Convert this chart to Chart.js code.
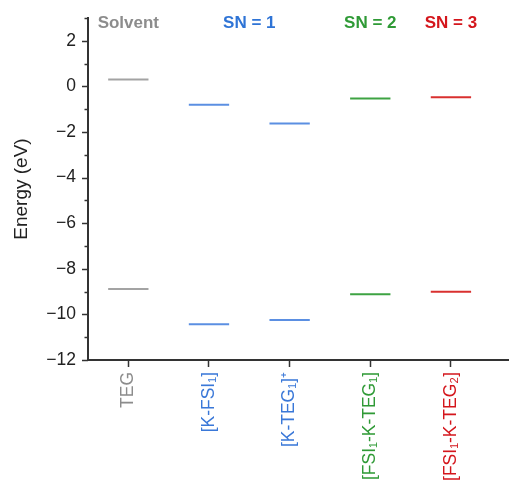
<!DOCTYPE html>
<html>
<head>
<meta charset="utf-8">
<script src="https://cdn.jsdelivr.net/npm/chart.js@4"></script>
<style>
html,body{margin:0;padding:0;background:#fff;overflow:hidden;}
#wrap{width:509px;height:481px;}
</style>
</head>
<body>
<div id="wrap"><canvas id="c" width="509" height="481"></canvas></div>
<script>
const categories = ['TEG', '[K-FSI\u2081]', '[K-TEG\u2081]\u207A', '[FSI\u2081-K-TEG\u2081]', '[FSI\u2081-K-TEG\u2082]'];
const lumoValues = [0.30, -0.80, -1.63, -0.53, -0.48];
const homoValues = [-8.89, -10.43, -10.25, -9.12, -9.01];
const lineColors = ['#a3a3a3', '#5b8fe2', '#5b8fe2', '#3ea343', '#d9302f'];
const labelColors = ['#8c8c8c', '#3a78d8', '#3a78d8', '#2f9a36', '#d4161c'];
const groupLabels = ['Solvent', 'SN = 1', 'SN = 2', 'SN = 3'];
const groupCenters = [1, 2.5, 4, 5];
const groupColors = ['#8c8c8c', '#2f74d6', '#2f9a36', '#d4161c'];
const yTickValues = [-12, -10, -8, -6, -4, -2, 0, 2];

const FONT = '"Liberation Sans", Arial, sans-serif';
const halfWidth = 0.25;
const datasets = [];
categories.forEach((cat, i) => {
  const c = i + 1;
  [lumoValues[i], homoValues[i]].forEach(v => {
    datasets.push({
      data: [{x: c - halfWidth, y: v}, {x: c + halfWidth, y: v}],
      borderColor: lineColors[i],
      borderWidth: 2,
      showLine: true,
      pointRadius: 0,
      fill: false
    });
  });
});

const fmt = v => (v < 0 ? '\u2212' + Math.abs(v) : String(v));

const extras = {
  id: 'extras',
  afterDraw(chart) {
    const ctx = chart.ctx;
    const xs = chart.scales.x, ys = chart.scales.y;
    const area = chart.chartArea;
    ctx.save();
    ctx.strokeStyle = '#333';
    ctx.lineWidth = 1.5;
    for (let v = ys.min; v <= ys.max; v++) {
      const py = Math.round(ys.getPixelForValue(v)) + 0.5;
      const len = (v % 2 === 0) ? 6 : 3.5;
      ctx.beginPath();
      ctx.moveTo(area.left - len, py);
      ctx.lineTo(area.left, py);
      ctx.stroke();
    }
    ctx.font = 'bold 17px ' + FONT;
    ctx.textAlign = 'center';
    ctx.textBaseline = 'middle';
    groupLabels.forEach((t, i) => {
      ctx.fillStyle = groupColors[i];
      ctx.fillText(t, xs.getPixelForValue(groupCenters[i]), area.top + 5);
    });
    ctx.restore();
  }
};

new Chart(document.getElementById('c'), {
  type: 'scatter',
  data: {datasets},
  options: {
    responsive: false,
    animation: false,
    layout: {padding: {top: 18, right: 0, bottom: 0, left: 0}},
    plugins: {legend: {display: false}, tooltip: {enabled: false}},
    scales: {
      x: {
        type: 'linear',
        min: 0.5,
        max: 5.72,
        afterBuildTicks: s => { s.ticks = categories.map((_, i) => ({value: i + 1})); },
        afterFit: s => { s.height = 121; s.paddingLeft = 0; s.paddingRight = 0; },
        border: {display: true, color: '#333', width: 2},
        grid: {drawOnChartArea: false, drawTicks: true, tickLength: 7, tickColor: '#333', tickWidth: 1.5},
        ticks: {
          autoSkip: false,
          minRotation: 90,
          maxRotation: 90,
          padding: 5,
          font: {size: 17.5, family: FONT},
          color: ctx => labelColors[ctx.index] || '#333',
          callback: (v, i) => categories[i]
        }
      },
      y: {
        min: -12,
        max: 3,
        afterBuildTicks: s => { s.ticks = yTickValues.map(v => ({value: v})); },
        afterFit: s => { s.width = 88; s.paddingTop = 0; s.paddingBottom = 0; },
        border: {display: true, color: '#333', width: 2},
        grid: {drawOnChartArea: false, drawTicks: false},
        ticks: {
          padding: 12,
          font: {size: 17.5, family: FONT},
          color: '#222',
          callback: v => fmt(v)
        },
        title: {
          display: true,
          text: 'Energy (eV)',
          color: '#222',
          padding: {top: 10, bottom: 0},
          font: {size: 19, family: FONT}
        }
      }
    }
  },
  plugins: [extras]
});
</script>
</body>
</html>
